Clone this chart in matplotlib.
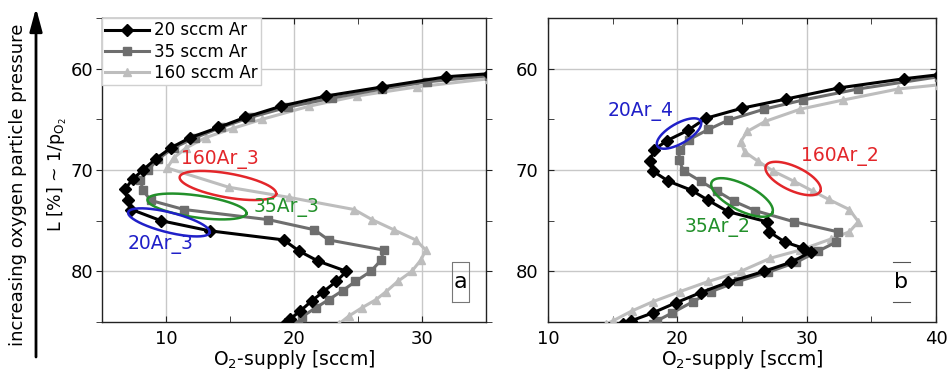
import numpy as np
import matplotlib.pyplot as plt
from matplotlib.patches import FancyArrowPatch

plt.rcParams['font.family'] = ['DejaVu Sans']
plt.rcParams['font.size'] = 12
plt.rcParams['mathtext.default'] = 'regular'

labels = ['20 sccm Ar', '35 sccm Ar', '160 sccm Ar']

# panel a  (O2 supply [sccm], L [%])
a20_x = [35.2, 31.9, 26.9, 22.5, 19.0, 16.2, 14.1, 11.9, 10.4, 9.2, 8.2, 7.4, 6.8, 7.0, 7.3,
         9.6, 13.4, 19.2, 20.4, 21.9, 24.1, 23.3, 22.3, 21.4, 20.5, 19.7, 19.3]
a20_L = [60.5, 60.8, 61.8, 62.7, 63.7, 64.8, 65.8, 66.8, 67.8, 68.9, 70.0, 70.9, 71.9, 73.0, 73.9,
         75.0, 76.0, 76.9, 78.0, 79.0, 80.0, 81.0, 82.0, 82.9, 83.9, 84.7, 85.2]
a35_x = [35.2, 30.4, 26.9, 23.0, 19.5, 16.6, 14.3, 12.3, 10.6, 9.4, 8.6, 8.0, 8.2, 8.8,
         11.4, 18.0, 21.6, 22.7, 27.0, 26.8, 26.0, 24.8, 23.8, 22.7, 21.7, 20.6, 20.3]
a35_L = [60.7, 61.3, 62.0, 62.9, 63.8, 64.8, 65.8, 66.8, 67.8, 68.9, 70.0, 71.0, 72.0, 73.0,
         73.9, 74.9, 75.9, 76.9, 77.9, 78.9, 80.0, 81.0, 81.9, 82.8, 83.6, 84.5, 85.2]
a160_x = [35.2, 29.6, 24.9, 21.2, 17.5, 15.2, 13.1, 11.6, 10.6, 10.1, 14.9, 19.6, 24.7,
          26.1, 27.8, 29.5, 30.3, 29.9, 29.2, 28.1, 27.2, 26.4, 25.3, 24.3, 23.5]
a160_L = [61.0, 61.8, 62.7, 63.7, 65.0, 65.9, 66.8, 67.8, 68.8, 69.8, 71.7, 72.7, 73.9,
          74.9, 75.9, 76.9, 77.9, 78.9, 80.0, 81.0, 82.0, 82.8, 83.6, 84.4, 85.2]

# panel b
b20_x = [40.2, 37.5, 32.5, 28.4, 25.0, 22.2, 20.8, 19.2, 18.2, 17.9, 18.1, 19.3, 21.1, 22.4,
         23.9, 26.9, 27.1, 28.3, 29.7, 30.3, 28.8, 26.7, 23.9, 21.8, 19.9, 18.1, 16.4, 15.8]
b20_L = [60.6, 61.0, 61.9, 63.0, 63.9, 64.9, 66.1, 67.1, 68.0, 69.1, 70.1, 71.1, 72.0, 73.0,
         74.1, 75.1, 76.1, 77.1, 77.7, 78.1, 79.1, 80.0, 81.1, 82.1, 83.1, 84.1, 84.9, 85.2]
b35_x = [40.2, 34.0, 29.7, 26.7, 23.9, 22.4, 20.9, 20.2, 20.1, 20.5, 21.8, 23.1, 24.4, 26.0,
         29.0, 32.4, 32.3, 30.9, 29.2, 27.0, 24.7, 22.6, 21.2, 19.6, 18.4, 18.1]
b35_L = [60.8, 62.0, 63.1, 64.0, 65.1, 66.0, 67.0, 68.0, 69.0, 70.1, 71.1, 72.1, 73.1, 74.0,
         75.1, 76.1, 77.1, 78.0, 79.1, 80.1, 81.0, 82.0, 83.0, 84.1, 84.9, 85.2]
b160_x = [40.2, 37.1, 32.8, 29.5, 26.8, 25.4, 24.9, 25.2, 26.2, 27.4, 29.0, 30.5, 31.7, 33.3,
          34.0, 33.3, 31.9, 29.5, 27.2, 24.9, 22.4, 20.2, 18.1, 16.5, 15.0, 14.5]
b160_L = [61.6, 62.0, 63.1, 64.0, 65.2, 66.2, 67.2, 68.2, 69.1, 70.1, 71.1, 72.1, 72.9, 73.9,
          75.1, 76.1, 76.8, 77.9, 78.7, 80.0, 81.0, 82.0, 83.0, 83.9, 84.9, 85.2]

# sample marks: text, text pos, ellipse centre, semi axes (px), angle (deg)
a_notes = ['160Ar_3', '35Ar_3', '20Ar_3']
a_note_xy = [(14.2, 69.0), (19.4, 73.7), (9.6, 77.4)]
a_ell_xy = [(14.84, 71.53), (12.42, 73.6), (10.23, 75.17)]
a_ell_ax = [(49, 12, -10), (50, 11, -8), (42, 10, -14)]
b_notes = ['20Ar_4', '160Ar_2', '35Ar_2']
b_note_xy = [(17.2, 64.2), (32.6, 68.7), (23.1, 75.7)]
b_ell_xy = [(20.13, 66.4), (28.95, 70.84), (25.0, 72.71)]
b_ell_ax = [(25, 10, 30), (30, 12, -25), (34, 13, -27)]
note_colors = ['#e3262a', '#22902a', '#2020c8']
b_note_colors = ['#2020c8', '#e3262a', '#22902a']

colors = ['#000000', '#6e6e6e', '#bdbdbd']
markers = ['D', 's', '^']

fig = plt.figure(figsize=(9.48, 3.77), dpi=100)
ax1 = fig.add_axes([102 / 948, 1 - 322 / 377, 384 / 948, 304 / 377])
ax2 = fig.add_axes([548 / 948, 1 - 322 / 377, 388 / 948, 304 / 377])


def ellipse(ax, c, a, b, ang, color):
    cx, cy = ax.transData.transform(c)
    t = np.linspace(0, 2 * np.pi, 200)
    th = np.deg2rad(ang)
    px = cx + a * np.cos(t) * np.cos(th) - b * np.sin(t) * np.sin(th)
    py = cy + a * np.cos(t) * np.sin(th) + b * np.sin(t) * np.cos(th)
    d = ax.transData.inverted().transform(np.column_stack([px, py]))
    ax.plot(d[:, 0], d[:, 1], color=color, lw=1.8, zorder=5, clip_on=False)


def box(ax, c, w, h, sides='all'):
    cx, cy = ax.transData.transform(c)
    inv = ax.transData.inverted()
    x0, y0 = inv.transform((cx - w / 2, cy - h / 2))
    x1, y1 = inv.transform((cx + w / 2, cy + h / 2))
    if sides == 'all':
        ax.plot([x0, x1, x1, x0, x0], [y0, y0, y1, y1, y0], color='#777777', lw=0.8, zorder=6)
    else:
        ax.plot([x0, x1], [y0, y0], color='#555555', lw=0.8, zorder=6)
        ax.plot([x0, x1], [y1, y1], color='#555555', lw=0.8, zorder=6)


panels = [
    (ax1, (5, 35), [10, 20, 30], [(a20_x, a20_L), (a35_x, a35_L), (a160_x, a160_L)]),
    (ax2, (10, 40), [10, 20, 30, 40], [(b20_x, b20_L), (b35_x, b35_L), (b160_x, b160_L)]),
]

for ax, xl, xt, data in panels:
    ax.set_xlim(*xl)
    ax.set_ylim(85, 55)
    ax.set_xticks(xt)
    ax.set_xticks(np.arange(xl[0], xl[1] + 1, 5), minor=True)
    ax.set_yticks([60, 70, 80])
    ax.set_yticks([55, 65, 75, 85], minor=True)
    ax.set_axisbelow(True)
    ax.grid(True, which='major', color='#c8c8c8', lw=1)
    for s in ax.spines.values():
        s.set_color('#222222')
        s.set_linewidth(1)
    ax.tick_params(which='both', direction='in', top=True, right=True, length=4,
                   labelsize=13, color='#222222')
    ax.tick_params(axis='x', pad=6)
    for i in [2, 1, 0]:
        x, L = data[i]
        ax.plot(x, L, color=colors[i], marker=markers[i], ms=6, lw=2.2,
                mec=colors[i], label=labels[i], zorder=3 + (2 - i) * 0.1)
    ax.set_xlabel('O$_2$-supply [sccm]', fontsize=13.5, labelpad=0)

ax1.tick_params(axis='y', which='both', direction='out', pad=2)
ax2.tick_params(axis='y', pad=7)

h, l = ax1.get_legend_handles_labels()
ax1.legend(h[::-1], l[::-1], loc='upper left', bbox_to_anchor=(0, 1), borderaxespad=0,
           fancybox=False, edgecolor='#d0d0d0', framealpha=1, fontsize=12,
           handlelength=2.6, handletextpad=0.3, labelspacing=0.2, borderpad=0.2,
           numpoints=1)

for ax, notes, nxy, exy, eax, cols in [(ax1, a_notes, a_note_xy, a_ell_xy, a_ell_ax, note_colors),
                                       (ax2, b_notes, b_note_xy, b_ell_xy, b_ell_ax, b_note_colors)]:
    for n, p, c, e, col in zip(notes, nxy, exy, eax, cols):
        ax.text(p[0], p[1], n, color=col, fontsize=13.5, ha='center', va='center', zorder=6)
        ellipse(ax, c, e[0], e[1], e[2], col)

ax1.text(33.0, 81.1, 'a', fontsize=16, ha='center', va='center', zorder=7)
box(ax1, (33.0, 81.1), 17, 40)
ax2.text(37.3, 81.1, 'b', fontsize=16, ha='center', va='center', zorder=7)
box(ax2, (37.3, 81.1), 17, 40, sides='tb')

fig.text(57 / 948, 1 - 174 / 377, 'L [%] ~ 1/p$_{O_2}$', rotation=90, ha='center',
         va='center', fontsize=12.5)
fig.text(18 / 948, 1 - 185 / 377, 'increasing oxygen particle pressure', rotation=90,
         ha='center', va='center', fontsize=13)
fig.add_artist(FancyArrowPatch((36 / 948, 1 - 357 / 377), (36 / 948, 1 - 8 / 377),
                               transform=fig.transFigure, arrowstyle='-|>,head_length=1.0,head_width=0.27',
                               mutation_scale=14, lw=2, color='k', shrinkA=0, shrinkB=0))

fig.savefig('out.png', dpi=100)
